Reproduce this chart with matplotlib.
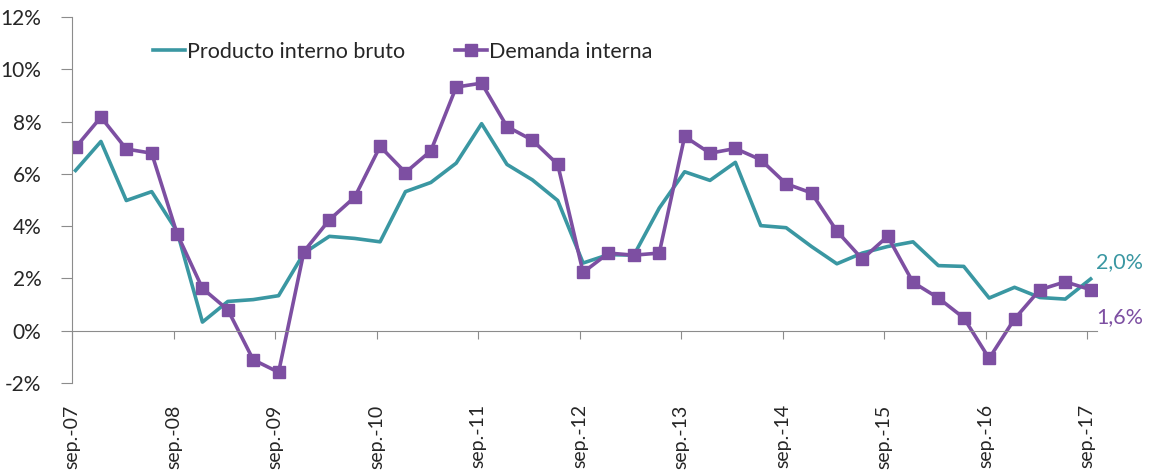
import matplotlib
matplotlib.use("Agg")
import matplotlib.pyplot as plt
import numpy as np

plt.rcParams['font.family'] = ['Lato', 'DejaVu Sans']

tick_labels = ["sep.-07", "sep.-08", "sep.-09", "sep.-10", "sep.-11", "sep.-12",
               "sep.-13", "sep.-14", "sep.-15", "sep.-16", "sep.-17"]

pib = [6.13, 7.24, 4.98, 5.32, 3.80, 0.33, 1.12, 1.19, 1.34, 2.97,
       3.61, 3.53, 3.40, 5.32, 5.67, 6.41, 7.92, 6.36, 5.77, 4.98,
       2.59, 2.91, 2.89, 4.69, 6.08, 5.75, 6.44, 4.02, 3.94, 3.22,
       2.56, 2.97, 3.22, 3.40, 2.49, 2.46, 1.25, 1.66, 1.27, 1.21,
       1.98]
demanda = [7.01, 8.17, 6.95, 6.79, 3.71, 1.62, 0.80, -1.11, -1.59, 3.03,
           4.24, 5.11, 7.05, 6.05, 6.88, 9.32, 9.47, 7.81, 7.29, 6.36,
           2.23, 2.97, 2.89, 2.97, 7.43, 6.79, 6.97, 6.54, 5.62, 5.27,
           3.81, 2.74, 3.61, 1.85, 1.25, 0.49, -1.06, 0.45, 1.57, 1.87,
           1.57]

teal = "#3A97A2"
purple = "#7D4FA2"
gray = "#8C8C8C"
txt = "#262626"

fig = plt.figure(figsize=(11.52, 4.76), dpi=100)
ax = fig.add_axes([72/1152, 1-383/476, (1097-72)/1152, (383-17)/476])

for s in ['top', 'right']:
    ax.spines[s].set_visible(False)
ax.spines['left'].set_color(gray)
ax.spines['bottom'].set_color(gray)
ax.spines['bottom'].set_position(('data', 0))

x = np.arange(len(pib))
ax.plot(x, pib, color=teal, lw=2.6, label="Producto interno bruto")
ax.plot(x, demanda, color=purple, lw=2.6, marker='s', markersize=8.5,
        label="Demanda interna")

ax.set_ylim(-2, 12)
ax.set_yticks(np.arange(-2, 13, 2))
ax.set_yticklabels([f"{v}%" for v in range(-2, 13, 2)], fontsize=15, color=txt)
ax.set_xlim(-0.14, 40.25)
ax.set_xticks(np.arange(0, 41, 4) - 0.14)
ax.set_xticklabels(tick_labels, rotation=90, fontsize=14, color=txt, va='top')

ax.tick_params(axis='y', direction='out', length=8, color=gray, pad=14)
ax.tick_params(axis='x', direction='out', length=6, color=gray, pad=47)

ax.annotate("2,0%", xy=(x[-1], pib[-1]), xytext=(4, 12), textcoords='offset points',
            color=teal, fontsize=15.5, va='center', ha='left', annotation_clip=False)
ax.annotate("1,6%", xy=(x[-1], demanda[-1]), xytext=(4, -20), textcoords='offset points',
            color=purple, fontsize=15.5, va='center', ha='left', annotation_clip=False)

leg = ax.legend(loc='upper left', bbox_to_anchor=(0.06, 0.985), ncol=2, frameon=False,
                fontsize=15.5, handlelength=1.5, handletextpad=0.1, columnspacing=2.3)
for t in leg.get_texts():
    t.set_color(txt)

fig.savefig("out.png", dpi=100)
